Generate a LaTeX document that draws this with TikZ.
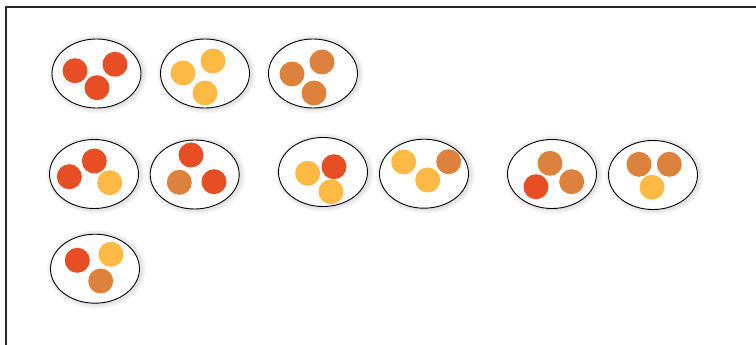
\documentclass[tikz,border=0pt]{standalone}
\usetikzlibrary{shapes.geometric,calc}
\definecolor{cred}{HTML}{E84E24}
\definecolor{cyel}{HTML}{FEBA45}
\definecolor{cbrn}{HTML}{DD823D}
\tikzset{
  bag/.style={ellipse, draw=black, line width=0.9pt, fill=white, minimum width=89pt, minimum height=69pt, inner sep=0pt},
  glow/.style={ellipse, fill=black, fill opacity=0.025, draw=none, inner sep=0pt},
  ball/.style={circle, minimum size=25pt, inner sep=0pt, draw=none},
  R/.style={ball, fill=cred},
  Y/.style={ball, fill=cyel},
  B/.style={ball, fill=cbrn}
}
\newcommand{\bagat}[2]{%
  \foreach \g in {2,4,6,8,10}{%
    \node[glow, minimum width=89pt+\g pt, minimum height=69pt+\g pt] at ($(#1)+(1.5,0.5)$) {};}%
  \node[bag] (#2) at (#1) {};}
\begin{document}
\begin{tikzpicture}[x=1pt,y=-1pt]
\useasboundingbox (0,0) rectangle (756,345);
\draw[line width=1.8pt, draw=black!85] (6,7) rectangle (770,360);
% row 1
\bagat{96.5,73.5}{e1}
\node[R] (e1a) at (75,70.7) {};
\node[R] (e1b) at (115,64.3) {};
\node[R] (e1c) at (97,87.7) {};
\bagat{205,73.5}{e2}
\node[Y] (e2a) at (183,73) {};
\node[Y] (e2b) at (213,61) {};
\node[Y] (e2c) at (205,93) {};
\bagat{313,73.5}{e3}
\node[B] (e3a) at (292,74) {};
\node[B] (e3b) at (322,62) {};
\node[B] (e3c) at (314,93) {};
% row 2
\bagat{94,174}{f1}
\node[R] (f1a) at (69.3,176.7) {};
\node[R] (f1b) at (94.3,161) {};
\node[Y] (f1c) at (109.7,182.7) {};
\bagat{194.7,174.5}{f2}
\node[R] (f2a) at (191,155) {};
\node[B] (f2b) at (179.3,182.3) {};
\node[R] (f2c) at (214,181.7) {};
\bagat{323,172}{f3}
\node[Y] (f3a) at (307.7,173.3) {};
\node[R] (f3b) at (334,166.7) {};
\node[Y] (f3c) at (331,191.7) {};
\bagat{424,173.7}{f4}
\node[Y] (f4a) at (403.7,162) {};
\node[Y] (f4b) at (427.7,180) {};
\node[B] (f4c) at (448.7,161.7) {};
\bagat{552,174}{f5}
\node[B] (f5a) at (550,163.3) {};
\node[R] (f5b) at (536,186.7) {};
\node[B] (f5c) at (571.7,181.7) {};
\bagat{653,175}{f6}
\node[B] (f6a) at (639,164.3) {};
\node[B] (f6b) at (669.3,164.3) {};
\node[Y] (f6c) at (652,187.3) {};
% row 3
\bagat{95,268.7}{g1}
\node[R] (g1a) at (77.3,260.3) {};
\node[Y] (g1b) at (111,254.3) {};
\node[B] (g1c) at (100.7,281) {};
\end{tikzpicture}
\end{document}
